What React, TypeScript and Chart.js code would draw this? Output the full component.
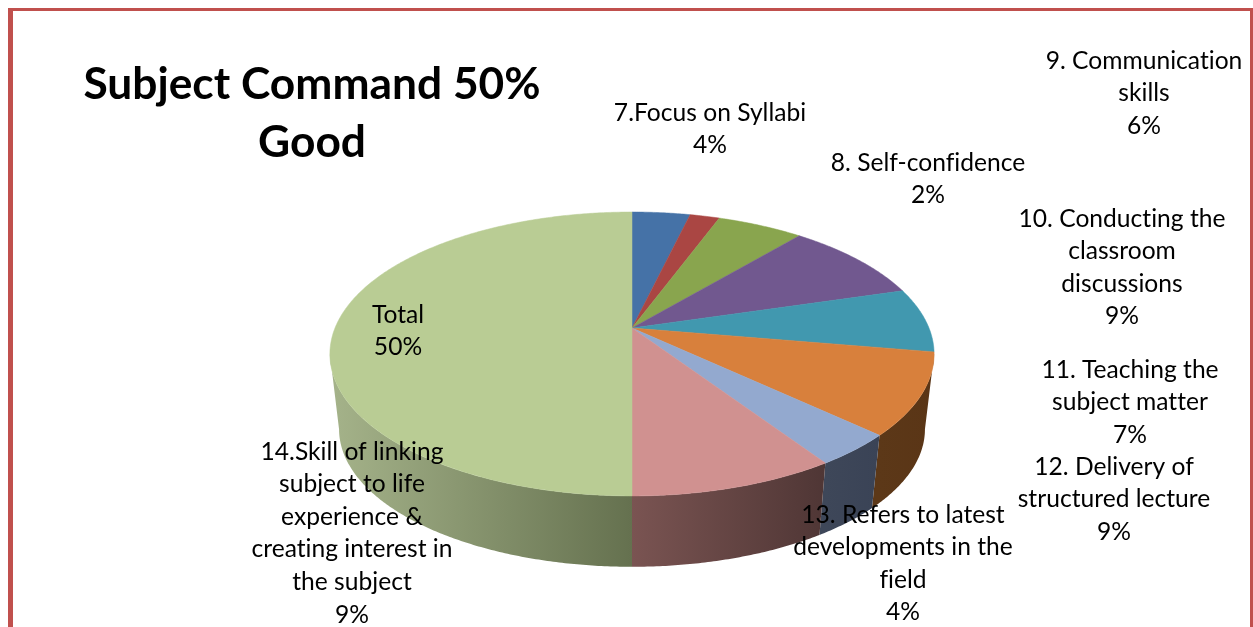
import React, { useEffect, useRef } from "react";
import { Chart, registerables } from "chart.js";

Chart.register(...registerables);

const titleLines = ["Subject Command 50%", "Good"];
const categoryLines = [
  ["7.Focus on Syllabi"],
  ["8. Self-confidence"],
  ["9. Communication", "skills"],
  ["10. Conducting the", "classroom", "discussions"],
  ["11. Teaching the", "subject matter"],
  ["12. Delivery of", "structured lecture"],
  ["13. Refers to latest", "developments in the", "field"],
  ["14.Skill of linking", "subject to life", "experience &", "creating interest in", "the subject"],
  ["Total"],
];
const values = [3.7, 1.9, 5.5, 9.3, 7.3, 9.3, 3.7, 9.3, 50];
const faceColors = ["#4572A7", "#AA4643", "#89A54E", "#71588F", "#4198AF", "#D8803C", "#93A9CF", "#D09190", "#B9CC94"];
const wallStops = [
  ["#3A5070", "#3A5070"],
  ["#6E2E2C", "#6E2E2C"],
  ["#5A6C33", "#5A6C33"],
  ["#4A3A5E", "#4A3A5E"],
  ["#2A6373", "#2A6373"],
  ["#5C3818", "#5A3516"],
  ["#3E4759", "#3A4356"],
  ["#7A5452", "#4F3635"],
  ["#A5B38A", "#65714F"],
];
const labelAnchors = [
  [710, 112.7], [928, 162.7], [1144, 60.7], [1122, 218.7], [1130, 369.7],
  [1114, 466.7], [903, 514.7], [352, 451.7], [398, 314.7],
];
const LINE_HEIGHT = 32.6;
const LABEL_FONT = "24.6px Lato";
const TITLE_FONT = "bold 44.3px Lato";
const TITLE_CENTER = [312, 85];
const TITLE_LINE_HEIGHT = 58;

const TOP_DISC = { cx: 632, y0: 328, a: 297, b: 137.2 };
const BOTTOM_DISC = { cx: 632, y0: 404, a: 288, b: 133 };
const TILT = 0.183;
const RIGHT_EDGE = (100.6 * Math.PI) / 180;
const LEFT_EDGE = (259.4 * Math.PI) / 180;
const STEP = Math.PI / 360;

type Disc = typeof TOP_DISC;

// Perspective view of a point on the rim, t measured clockwise from 12 o'clock.
function rim(d: Disc, t: number): [number, number] {
  const u = Math.sin(t);
  const v = -Math.cos(t);
  const w = 1 - TILT * v;
  return [d.cx + (d.a * u) / w, d.y0 + (d.b * v) / w];
}

function traceRim(ctx: CanvasRenderingContext2D, d: Disc, from: number, to: number) {
  const n = Math.max(1, Math.ceil(Math.abs(to - from) / STEP));
  for (let i = 0; i <= n; i++) {
    const [x, y] = rim(d, from + ((to - from) * i) / n);
    ctx.lineTo(x, y);
  }
}

const pie3d = {
  id: "pie3d",
  beforeDatasetDraw(chart: any) {
    const ctx: CanvasRenderingContext2D = chart.ctx;
    const arcs = chart.getDatasetMeta(0).data;
    const spans = arcs.map((arc: any) => [arc.startAngle + Math.PI / 2, arc.endAngle + Math.PI / 2]);
    ctx.save();
    spans.forEach(([s, e]: number[], i: number) => {
      const a = Math.max(s, RIGHT_EDGE);
      const b = Math.min(e, LEFT_EDGE);
      if (b <= a) return;
      const [x1] = rim(TOP_DISC, a);
      const [x2] = rim(TOP_DISC, b);
      const left = Math.min(x1, x2);
      const right = Math.max(x1, x2);
      const g = ctx.createLinearGradient(left, 0, right, 0);
      g.addColorStop(0, wallStops[i][0]);
      g.addColorStop(1, wallStops[i][1]);
      ctx.beginPath();
      const start = rim(TOP_DISC, a);
      ctx.moveTo(start[0], start[1]);
      traceRim(ctx, TOP_DISC, a, b);
      traceRim(ctx, BOTTOM_DISC, b, a);
      ctx.closePath();
      ctx.fillStyle = g;
      ctx.fill();
    });
    spans.forEach(([s, e]: number[], i: number) => {
      ctx.beginPath();
      ctx.moveTo(TOP_DISC.cx, TOP_DISC.y0);
      traceRim(ctx, TOP_DISC, s, e);
      ctx.closePath();
      ctx.fillStyle = faceColors[i];
      ctx.strokeStyle = faceColors[i];
      ctx.lineWidth = 0.5;
      ctx.fill();
      ctx.stroke();
    });
    ctx.restore();
    return false;
  },
  beforeDraw(chart: any) {
    const ctx: CanvasRenderingContext2D = chart.ctx;
    ctx.save();
    ctx.fillStyle = "#ffffff";
    ctx.fillRect(0, 0, chart.width, chart.height);
    ctx.fillStyle = "#C0504D";
    ctx.fillRect(8, 8, 1245, 3);
    ctx.fillRect(8, 8, 5, 619);
    ctx.fillRect(1250, 8, 3, 619);
    ctx.restore();
  },
  afterDraw(chart: any) {
    const ctx: CanvasRenderingContext2D = chart.ctx as any;
    ctx.save();
    (ctx as any).letterSpacing = "0.01px";
    ctx.fillStyle = "#000000";
    ctx.textAlign = "center";
    ctx.textBaseline = "middle";
    ctx.font = TITLE_FONT;
    titleLines.forEach((t, i) => ctx.fillText(t, TITLE_CENTER[0], TITLE_CENTER[1] + i * TITLE_LINE_HEIGHT));
    ctx.font = LABEL_FONT;
    categoryLines.forEach((lines, i) => {
      const [x, y] = labelAnchors[i];
      const all = [...lines, `${Math.round(values[i])}%`];
      all.forEach((t, j) => ctx.fillText(t, x, y + j * LINE_HEIGHT));
    });
    ctx.restore();
  },
};

export default function App() {
  const ref = useRef<HTMLCanvasElement>(null);
  useEffect(() => {
    document.body.style.margin = "0";
    const chart = new Chart(ref.current as HTMLCanvasElement, {
      type: "pie",
      data: {
        labels: categoryLines.map((l) => l.join(" ")),
        datasets: [{ data: values, backgroundColor: faceColors, borderWidth: 0 }],
      },
      options: {
        responsive: false,
        animation: false,
        rotation: 0,
        plugins: { legend: { display: false }, tooltip: { enabled: false } },
      },
      plugins: [pie3d],
    } as any);
    return () => chart.destroy();
  }, []);
  return <canvas ref={ref} width={1253} height={627} style={{ display: "block" }} />;
}
